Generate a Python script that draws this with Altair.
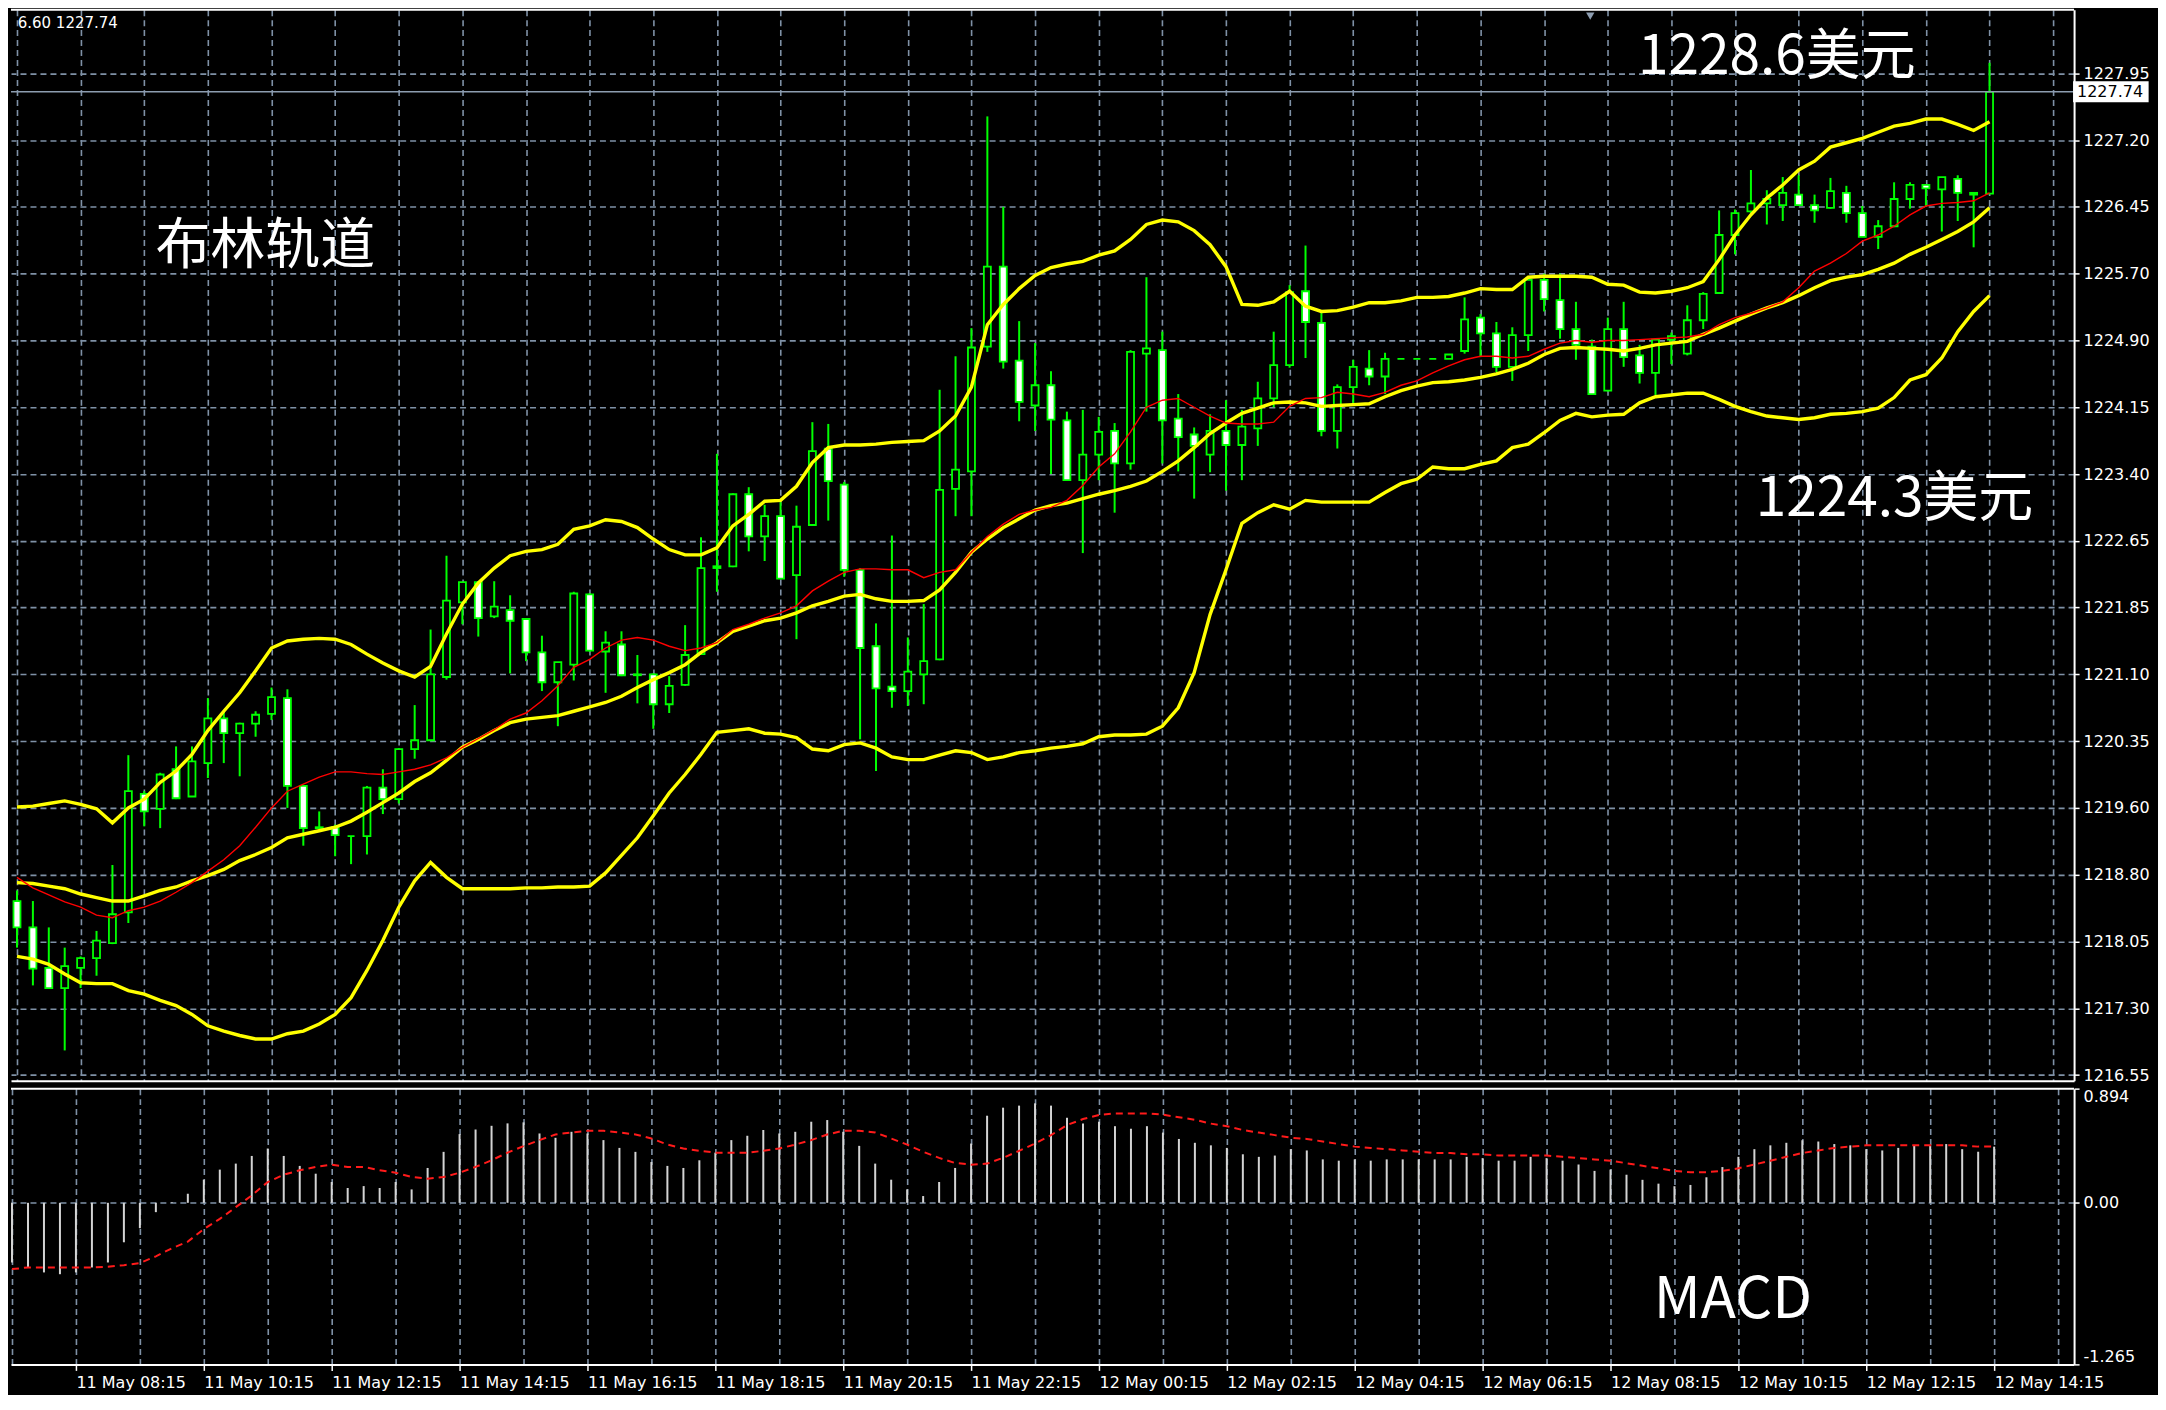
import json
import altair as alt
import pandas as pd

# ---------------- data (15-minute bars, 11 May 07:15 -> 12 May 14:15) ----------------
bar_open = [1218.53, 1218.23, 1217.77, 1217.54, 1217.77, 1217.88, 1218.05, 1218.40, 1219.75, 1219.58,
            1220.03, 1219.72, 1220.10, 1220.61, 1220.44, 1220.55, 1220.66, 1220.84, 1219.84, 1219.36,
            1219.37, 1219.27, 1219.27, 1219.82, 1219.69, 1220.26, 1220.36, 1221.08, 1221.93, 1222.16,
            1221.77, 1221.84, 1221.74, 1221.36, 1221.02, 1221.22, 1222.02, 1221.37, 1221.45, 1221.10,
            1221.11, 1220.77, 1220.99, 1221.34, 1222.32, 1222.34, 1223.16, 1222.68, 1222.91, 1222.24,
            1222.81, 1223.68, 1223.27, 1222.30, 1221.43, 1220.97, 1220.92, 1221.11, 1221.28, 1223.22,
            1223.42, 1224.84, 1225.75, 1224.68, 1224.17, 1224.40, 1224.00, 1223.32, 1223.61, 1223.88,
            1223.51, 1224.76, 1224.80, 1224.02, 1223.84, 1223.61, 1223.88, 1223.72, 1223.91, 1224.25,
            1224.63, 1225.47, 1225.11, 1223.88, 1224.38, 1224.59, 1224.50, 1224.70, 1224.70, 1224.70,
            1224.70, 1224.79, 1225.17, 1224.99, 1224.61, 1224.97, 1225.60, 1225.37, 1225.04, 1224.84,
            1224.34, 1225.04, 1224.74, 1224.54, 1224.92, 1224.76, 1225.14, 1225.45, 1226.11, 1226.38,
            1226.47, 1226.45, 1226.57, 1226.45, 1226.42, 1226.59, 1226.36, 1226.09, 1226.21, 1226.52,
            1226.68, 1226.63, 1226.75, 1226.59, 1226.58]
bar_high = [1218.65, 1218.53, 1218.23, 1218.00, 1217.90, 1218.19, 1218.94, 1220.19, 1219.78, 1219.99,
            1220.29, 1220.29, 1220.84, 1220.69, 1220.56, 1220.69, 1220.96, 1220.94, 1219.85, 1219.55,
            1219.40, 1219.27, 1219.84, 1220.03, 1220.27, 1220.76, 1221.62, 1222.46, 1222.16, 1222.17,
            1222.17, 1222.01, 1221.75, 1221.55, 1221.25, 1222.05, 1222.03, 1221.60, 1221.60, 1221.33,
            1221.12, 1221.09, 1221.67, 1222.67, 1223.62, 1223.17, 1223.24, 1223.04, 1223.07, 1223.03,
            1223.98, 1223.96, 1223.30, 1222.32, 1221.69, 1222.69, 1221.53, 1221.91, 1224.35, 1224.73,
            1225.05, 1227.46, 1226.43, 1225.13, 1224.88, 1224.56, 1224.10, 1224.12, 1224.04, 1223.97,
            1224.80, 1225.63, 1225.01, 1224.30, 1223.92, 1224.07, 1224.23, 1224.12, 1224.44, 1225.01,
            1225.54, 1225.99, 1225.24, 1224.41, 1224.69, 1224.80, 1224.77, 1224.70, 1224.70, 1224.70,
            1224.75, 1225.40, 1225.21, 1225.12, 1225.06, 1225.61, 1225.67, 1225.67, 1225.35, 1224.92,
            1225.17, 1225.35, 1224.86, 1224.93, 1225.00, 1225.31, 1225.46, 1226.39, 1226.40, 1226.85,
            1226.62, 1226.77, 1226.79, 1226.57, 1226.76, 1226.67, 1226.44, 1226.28, 1226.71, 1226.71,
            1226.69, 1226.77, 1226.79, 1226.59, 1228.07]
bar_low = [1218.00, 1217.57, 1217.54, 1216.83, 1217.54, 1217.68, 1218.04, 1218.28, 1219.38, 1219.36,
           1219.69, 1219.72, 1219.93, 1220.10, 1219.95, 1220.40, 1220.59, 1219.59, 1219.16, 1219.35,
           1219.04, 1218.95, 1219.06, 1219.52, 1219.64, 1220.15, 1220.35, 1221.05, 1221.68, 1221.54,
           1221.75, 1221.12, 1221.26, 1220.92, 1220.52, 1221.04, 1221.37, 1220.90, 1221.09, 1220.78,
           1220.49, 1220.67, 1220.98, 1221.33, 1222.05, 1222.33, 1222.51, 1222.40, 1222.20, 1221.51,
           1222.80, 1222.86, 1222.22, 1220.37, 1220.01, 1220.73, 1220.75, 1220.77, 1221.27, 1222.91,
           1222.91, 1224.78, 1224.59, 1223.99, 1223.88, 1223.39, 1223.32, 1222.49, 1223.32, 1222.95,
           1223.44, 1224.10, 1223.51, 1223.42, 1223.11, 1223.41, 1223.20, 1223.32, 1223.71, 1224.15,
           1224.60, 1224.71, 1223.82, 1223.68, 1224.19, 1224.40, 1224.30, 1224.70, 1224.70, 1224.70,
           1224.70, 1224.76, 1224.72, 1224.55, 1224.45, 1224.79, 1225.24, 1224.93, 1224.69, 1224.29,
           1224.33, 1224.61, 1224.42, 1224.29, 1224.64, 1224.74, 1225.04, 1225.44, 1225.89, 1226.36,
           1226.23, 1226.27, 1226.44, 1226.25, 1226.41, 1226.25, 1226.09, 1225.95, 1226.20, 1226.41,
           1226.43, 1226.15, 1226.27, 1225.97, 1226.58]
bar_close = [1218.23, 1217.76, 1217.54, 1217.79, 1217.88, 1218.08, 1218.38, 1219.78, 1219.55, 1219.97,
             1219.70, 1220.12, 1220.61, 1220.44, 1220.55, 1220.65, 1220.85, 1219.84, 1219.36, 1219.37,
             1219.28, 1219.27, 1219.82, 1219.69, 1220.26, 1220.36, 1221.11, 1221.95, 1222.16, 1221.75,
             1221.88, 1221.72, 1221.36, 1221.02, 1221.25, 1222.03, 1221.38, 1221.47, 1221.10, 1221.11,
             1220.77, 1220.98, 1221.33, 1222.32, 1222.34, 1223.16, 1222.68, 1222.91, 1222.20, 1222.79,
             1223.65, 1223.31, 1222.30, 1221.41, 1220.95, 1220.92, 1221.14, 1221.26, 1223.21, 1223.44,
             1224.83, 1225.75, 1224.67, 1224.21, 1224.40, 1224.01, 1223.32, 1223.61, 1223.87, 1223.51,
             1224.78, 1224.82, 1224.00, 1223.81, 1223.71, 1223.88, 1223.72, 1223.93, 1224.25, 1224.63,
             1225.46, 1225.12, 1223.88, 1224.38, 1224.61, 1224.50, 1224.70, 1224.70, 1224.70, 1224.70,
             1224.75, 1225.15, 1224.99, 1224.61, 1224.97, 1225.60, 1225.38, 1225.04, 1224.86, 1224.30,
             1225.04, 1224.72, 1224.54, 1224.92, 1224.96, 1225.14, 1225.44, 1226.11, 1226.36, 1226.47,
             1226.52, 1226.59, 1226.45, 1226.39, 1226.61, 1226.36, 1226.09, 1226.21, 1226.52, 1226.68,
             1226.64, 1226.77, 1226.59, 1226.57, 1227.74]
bb_upper = [1219.60, 1219.61, 1219.64, 1219.67, 1219.63, 1219.58, 1219.42, 1219.59, 1219.69, 1219.88,
            1220.01, 1220.20, 1220.47, 1220.69, 1220.90, 1221.15, 1221.41, 1221.49, 1221.51, 1221.52,
            1221.51, 1221.45, 1221.34, 1221.24, 1221.15, 1221.08, 1221.20, 1221.57, 1221.91, 1222.15,
            1222.32, 1222.46, 1222.51, 1222.53, 1222.59, 1222.76, 1222.80, 1222.87, 1222.85, 1222.78,
            1222.65, 1222.53, 1222.47, 1222.47, 1222.55, 1222.80, 1222.93, 1223.08, 1223.09, 1223.25,
            1223.52, 1223.69, 1223.72, 1223.72, 1223.73, 1223.75, 1223.76, 1223.77, 1223.88, 1224.05,
            1224.38, 1225.09, 1225.32, 1225.50, 1225.65, 1225.74, 1225.78, 1225.81, 1225.88, 1225.93,
            1226.06, 1226.23, 1226.28, 1226.26, 1226.16, 1226.00, 1225.75, 1225.32, 1225.31, 1225.35,
            1225.47, 1225.30, 1225.24, 1225.25, 1225.29, 1225.34, 1225.34, 1225.36, 1225.40, 1225.40,
            1225.41, 1225.45, 1225.50, 1225.49, 1225.49, 1225.63, 1225.64, 1225.64, 1225.64, 1225.63,
            1225.55, 1225.54, 1225.46, 1225.45, 1225.47, 1225.51, 1225.58, 1225.83, 1226.11, 1226.34,
            1226.53, 1226.68, 1226.85, 1226.95, 1227.11, 1227.16, 1227.21, 1227.28, 1227.35, 1227.38,
            1227.43, 1227.43, 1227.37, 1227.30, 1227.40]
bb_mid = [1218.74, 1218.73, 1218.70, 1218.67, 1218.61, 1218.57, 1218.53, 1218.53, 1218.59, 1218.65,
          1218.69, 1218.76, 1218.82, 1218.89, 1218.99, 1219.06, 1219.14, 1219.25, 1219.29, 1219.33,
          1219.37, 1219.44, 1219.54, 1219.65, 1219.76, 1219.89, 1219.99, 1220.13, 1220.28, 1220.37,
          1220.47, 1220.56, 1220.60, 1220.62, 1220.64, 1220.69, 1220.74, 1220.79, 1220.86, 1220.96,
          1221.05, 1221.13, 1221.22, 1221.36, 1221.47, 1221.60, 1221.66, 1221.72, 1221.75, 1221.81,
          1221.89, 1221.94, 1222.00, 1222.02, 1221.97, 1221.94, 1221.94, 1221.95, 1222.07, 1222.27,
          1222.50, 1222.65, 1222.78, 1222.88, 1222.98, 1223.03, 1223.06, 1223.11, 1223.16, 1223.20,
          1223.25, 1223.31, 1223.42, 1223.54, 1223.69, 1223.85, 1223.97, 1224.08, 1224.14, 1224.20,
          1224.21, 1224.20, 1224.16, 1224.17, 1224.18, 1224.19, 1224.27, 1224.34, 1224.39, 1224.43,
          1224.44, 1224.46, 1224.49, 1224.53, 1224.58, 1224.65, 1224.75, 1224.82, 1224.83, 1224.82,
          1224.81, 1224.79, 1224.82, 1224.86, 1224.88, 1224.90, 1224.98, 1225.05, 1225.13, 1225.21,
          1225.28, 1225.34, 1225.42, 1225.51, 1225.59, 1225.63, 1225.66, 1225.72, 1225.79, 1225.89,
          1225.97, 1226.06, 1226.15, 1226.26, 1226.42]
bb_lower = [1217.90, 1217.87, 1217.81, 1217.70, 1217.60, 1217.59, 1217.59, 1217.51, 1217.47, 1217.40,
            1217.34, 1217.24, 1217.11, 1217.05, 1217.00, 1216.96, 1216.96, 1217.02, 1217.05, 1217.13,
            1217.24, 1217.43, 1217.74, 1218.08, 1218.46, 1218.76, 1218.97, 1218.80, 1218.67, 1218.67,
            1218.67, 1218.67, 1218.68, 1218.68, 1218.69, 1218.69, 1218.70, 1218.85, 1219.05, 1219.25,
            1219.50, 1219.76, 1219.97, 1220.20, 1220.45, 1220.47, 1220.49, 1220.44, 1220.43, 1220.39,
            1220.26, 1220.24, 1220.31, 1220.33, 1220.27, 1220.17, 1220.14, 1220.14, 1220.19, 1220.24,
            1220.22, 1220.14, 1220.17, 1220.22, 1220.24, 1220.27, 1220.29, 1220.32, 1220.40, 1220.42,
            1220.42, 1220.43, 1220.52, 1220.73, 1221.13, 1221.79, 1222.30, 1222.83, 1222.95, 1223.04,
            1222.99, 1223.09, 1223.07, 1223.07, 1223.07, 1223.07, 1223.18, 1223.28, 1223.33, 1223.47,
            1223.45, 1223.45, 1223.50, 1223.54, 1223.69, 1223.73, 1223.86, 1224.00, 1224.08, 1224.04,
            1224.06, 1224.07, 1224.20, 1224.27, 1224.29, 1224.31, 1224.31, 1224.24, 1224.16, 1224.10,
            1224.05, 1224.03, 1224.01, 1224.03, 1224.07, 1224.08, 1224.10, 1224.14, 1224.26, 1224.46,
            1224.52, 1224.71, 1225.01, 1225.24, 1225.42]
ma_red = [1218.80, 1218.68, 1218.60, 1218.52, 1218.46, 1218.37, 1218.34, 1218.42, 1218.46, 1218.53,
          1218.63, 1218.74, 1218.87, 1219.00, 1219.16, 1219.37, 1219.59, 1219.78, 1219.86, 1219.94,
          1220.00, 1220.00, 1219.98, 1219.97, 1220.00, 1220.03, 1220.08, 1220.16, 1220.28, 1220.38,
          1220.48, 1220.60, 1220.67, 1220.81, 1220.98, 1221.19, 1221.28, 1221.41, 1221.50, 1221.53,
          1221.50, 1221.43, 1221.38, 1221.41, 1221.47, 1221.62, 1221.68, 1221.75, 1221.81, 1221.89,
          1222.06, 1222.17, 1222.27, 1222.31, 1222.31, 1222.30, 1222.30, 1222.21, 1222.27, 1222.30,
          1222.50, 1222.68, 1222.82, 1222.93, 1222.98, 1223.01, 1223.09, 1223.26, 1223.47, 1223.62,
          1223.87, 1224.15, 1224.23, 1224.25, 1224.15, 1224.05, 1223.97, 1223.96, 1223.96, 1223.98,
          1224.16, 1224.25, 1224.26, 1224.32, 1224.30, 1224.27, 1224.32, 1224.40, 1224.45, 1224.54,
          1224.62, 1224.69, 1224.73, 1224.73, 1224.71, 1224.73, 1224.81, 1224.88, 1224.91, 1224.89,
          1224.91, 1224.91, 1224.92, 1224.93, 1224.94, 1224.95, 1224.98, 1225.09, 1225.17, 1225.22,
          1225.28, 1225.35, 1225.51, 1225.70, 1225.79, 1225.90, 1226.04, 1226.11, 1226.21, 1226.34,
          1226.44, 1226.47, 1226.48, 1226.50, 1226.59]
macd_hist = [-0.467, -0.506, -0.545, -0.559, -0.545, -0.506, -0.467, -0.309, -0.199, -0.073,
             0.005, 0.071, 0.181, 0.260, 0.307, 0.367, 0.425, 0.367, 0.289, 0.228,
             0.163, 0.116, 0.131, 0.116, 0.163, 0.105, 0.273, 0.399, 0.538, 0.574,
             0.603, 0.622, 0.630, 0.543, 0.509, 0.556, 0.543, 0.491, 0.430, 0.399,
             0.320, 0.289, 0.273, 0.333, 0.393, 0.491, 0.525, 0.570, 0.543, 0.556,
             0.635, 0.648, 0.556, 0.446, 0.307, 0.181, 0.105, 0.053, 0.163, 0.273,
             0.464, 0.682, 0.745, 0.761, 0.779, 0.761, 0.666, 0.622, 0.635, 0.600,
             0.580, 0.600, 0.550, 0.500, 0.470, 0.450, 0.430, 0.380, 0.360, 0.370,
             0.420, 0.410, 0.340, 0.330, 0.340, 0.330, 0.340, 0.340, 0.340, 0.340,
             0.340, 0.360, 0.350, 0.330, 0.330, 0.360, 0.350, 0.330, 0.300, 0.250,
             0.260, 0.220, 0.180, 0.150, 0.130, 0.140, 0.200, 0.280, 0.360, 0.420,
             0.450, 0.470, 0.490, 0.480, 0.460, 0.450, 0.420, 0.410, 0.430, 0.450,
             0.450, 0.460, 0.420, 0.400, 0.440]
macd_signal = [-0.519, -0.506, -0.506, -0.506, -0.506, -0.506, -0.500, -0.488, -0.472, -0.419,
               -0.356, -0.304, -0.205, -0.126, -0.034, 0.058, 0.163, 0.220, 0.255, 0.281,
               0.299, 0.281, 0.281, 0.255, 0.236, 0.202, 0.189, 0.202, 0.236, 0.281,
               0.333, 0.393, 0.444, 0.491, 0.535, 0.551, 0.564, 0.564, 0.551, 0.535,
               0.504, 0.456, 0.425, 0.407, 0.393, 0.393, 0.393, 0.407, 0.425, 0.456,
               0.491, 0.535, 0.564, 0.564, 0.551, 0.504, 0.456, 0.399, 0.352, 0.312,
               0.299, 0.307, 0.352, 0.407, 0.464, 0.530, 0.609, 0.656, 0.688, 0.700,
               0.700, 0.700, 0.690, 0.670, 0.650, 0.620, 0.600, 0.570, 0.550, 0.530,
               0.510, 0.500, 0.480, 0.460, 0.440, 0.430, 0.420, 0.410, 0.400, 0.390,
               0.390, 0.380, 0.380, 0.370, 0.370, 0.370, 0.370, 0.360, 0.350, 0.340,
               0.330, 0.310, 0.290, 0.270, 0.250, 0.240, 0.240, 0.250, 0.270, 0.300,
               0.330, 0.360, 0.390, 0.410, 0.430, 0.440, 0.450, 0.450, 0.450, 0.450,
               0.450, 0.450, 0.450, 0.440, 0.440]

price_tick_labels = ["1216.55", "1217.30", "1218.05", "1218.80", "1219.60", "1220.35", "1221.10", "1221.85",
                     "1222.65", "1223.40", "1224.15", "1224.90", "1225.70", "1226.45", "1227.20", "1227.95"]
time_tick_labels = ["11 May 08:15", "11 May 10:15", "11 May 12:15", "11 May 14:15", "11 May 16:15",
                    "11 May 18:15", "11 May 20:15", "11 May 22:15", "12 May 00:15", "12 May 02:15",
                    "12 May 04:15", "12 May 06:15", "12 May 08:15", "12 May 10:15", "12 May 12:15",
                    "12 May 14:15"]
macd_range = [-1.265, 0.894]
annotation_text = ["布林轨道", "1228.6美元", "1224.3美元"]
info_text = "6.60 1227.74"

# ---------------- layout / style ----------------
W = 2065
H_MAIN = 1072
H_MACD = 276
X_DOMAIN = [-0.0625, 129.0]
P_DOMAIN = [1216.486, 1228.675]
GREEN = "#00ff00"
YELLOW = "#ffff00"
GRID = "#7f91a6"
AXFONT = "DejaVu Sans"
ANNFONT = "Noto Sans CJK SC"

n = len(bar_close)
df = pd.DataFrame({
    "i": list(range(n)), "o": bar_open, "h": bar_high, "l": bar_low, "c": bar_close,
    "U": bb_upper, "M": bb_mid, "L": bb_lower, "R": ma_red,
    "hist": macd_hist, "sig": macd_signal, "z": [0.0] * n,
})

xs = alt.Scale(domain=X_DOMAIN, nice=False, zero=False)
ps = alt.Scale(domain=P_DOMAIN, nice=False, zero=False)
ms = alt.Scale(domain=macd_range, nice=False, zero=False)

vgrid = list(range(0, 129, 4))
pgrid = [round(1216.55 + 0.76 * k, 4) for k in range(16)]

grid_common = dict(grid=True, gridColor=GRID, gridDash=[6, 4], gridWidth=1.6)

main_x_axis = alt.Axis(title=None, values=vgrid, labels=False, ticks=False, domain=True,
                       domainColor="white", domainWidth=2, **grid_common)
main_y_axis = alt.Axis(
    title=None, orient="right", values=pgrid,
    labelExpr=json.dumps(price_tick_labels) + "[round((datum.value - 1216.55) / 0.76)]",
    labelColor="white", labelFont=AXFONT, labelFontSize=16, labelAlign="left",
    labelBaseline="middle", labelPadding=4, labelOverlap=False,
    tickColor="white", tickSize=5, tickWidth=1.5,
    domain=True, domainColor="white", domainWidth=2, **grid_common)

macd_x_axis = alt.Axis(
    title=None, values=vgrid,
    labelExpr="datum.value % 8 === 4 ? " + json.dumps(time_tick_labels) + "[(datum.value - 4) / 8] : ''",
    labelColor="white", labelFont=AXFONT, labelFontSize=16, labelAlign="left",
    labelBaseline="top", labelPadding=4, labelOverlap=False, labelFlush=False,
    tickColor="white", tickSize=6, tickWidth=1.5,
    tickOpacity={"condition": {"test": "datum.value % 8 === 4", "value": 1}, "value": 0},
    domain=True, domainColor="white", domainWidth=2, **grid_common)
macd_y_axis = alt.Axis(
    title=None, orient="right", values=[macd_range[0], 0, macd_range[1]],
    labelExpr="datum.value > 0.5 ? '0.894' : (datum.value < -1 ? '-1.265' : '0.00')",
    labelColor="white", labelFont=AXFONT, labelFontSize=16, labelAlign="left",
    labelPadding=4, labelOverlap=False, labelFlush=True,
    tickColor="white", tickSize=5, tickWidth=1.5,
    domain=True, domainColor="white", domainWidth=2,
    grid=True, gridColor=GRID, gridDash=[6, 4], gridWidth=1.6,
    gridOpacity={"condition": {"test": "datum.value === 0", "value": 1}, "value": 0})


def XM(f):
    return alt.X(f"{f}:Q", scale=xs, axis=main_x_axis)


def YM(f):
    return alt.Y(f"{f}:Q", scale=ps, axis=main_y_axis)


def XB(f):
    return alt.X(f"{f}:Q", scale=xs, axis=macd_x_axis)


def YB(f):
    return alt.Y(f"{f}:Q", scale=ms, axis=macd_y_axis)


base = alt.Chart(df)

# ---- main price panel ----
wicks = base.mark_rule(color=GREEN, strokeWidth=2).encode(x=XM("i"), y=YM("l"), y2="h")
bodies = base.mark_bar(size=7, stroke=GREEN, strokeWidth=1.8).encode(
    x=XM("i"), y=YM("o"), y2="c",
    fill=alt.condition("datum.c > datum.o", alt.value("#000000"), alt.value("#ffffff")))
upper = base.mark_line(color=YELLOW, strokeWidth=3.4).encode(x=XM("i"), y=YM("U"))
middle = base.mark_line(color=YELLOW, strokeWidth=3.4).encode(x=XM("i"), y=YM("M"))
lower = base.mark_line(color=YELLOW, strokeWidth=3.4).encode(x=XM("i"), y=YM("L"))
red = base.mark_line(color="#ff0000", strokeWidth=1.4).encode(x=XM("i"), y=YM("R"))

last = bar_close[-1]
price_line = alt.Chart(pd.DataFrame({"p": [last]})).mark_rule(
    color="#8d9db0", strokeWidth=1.5).encode(y=YM("p"))
top_border = alt.Chart(pd.DataFrame({"p": [P_DOMAIN[1]]})).mark_rule(
    color="white", strokeWidth=2).encode(y=YM("p"))

ann_df = pd.DataFrame({"x": [8.7, 101.9, 109.3], "y": [1225.99, 1228.14, 1223.10], "t": annotation_text})
annotations = alt.Chart(ann_df).mark_text(
    align="left", baseline="middle", font=ANNFONT, fontSize=55, color="white").encode(
    x=XM("x"), y=YM("y"), text="t:N")

info = alt.Chart(pd.DataFrame({"x": [0.05], "y": [1228.52], "t": [info_text]})).mark_text(
    align="left", baseline="middle", font=AXFONT, fontSize=15, color="white").encode(
    x=XM("x"), y=YM("y"), text="t:N")

tag_df = pd.DataFrame({"x": [129.25], "x2": [134.0], "y": [last - 0.12], "y2": [last + 0.12],
                       "tx": [129.5], "ty": [last], "t": [f"{last:.2f}"]})
tag_box = alt.Chart(tag_df).mark_rect(fill="white").encode(x=XM("x"), x2="x2", y=YM("y"), y2="y2")
tag_text = alt.Chart(tag_df).mark_text(
    align="left", baseline="middle", font=AXFONT, fontSize=16, color="black").encode(
    x=XM("tx"), y=YM("ty"), text="t:N")

shift_marker = alt.Chart(pd.DataFrame({"x": [98.9], "y": [1228.60]})).mark_point(
    shape="triangle-down", filled=True, size=70, color="#8d9db0", opacity=1).encode(
    x=XM("x"), y=YM("y"))

main = alt.layer(
    wicks, bodies, upper, middle, lower, red, price_line, top_border,
    annotations, info, tag_box, tag_text, shift_marker
).properties(width=W, height=H_MAIN)

# ---- MACD panel ----
hist = base.mark_rule(color="#d4d4d4", strokeWidth=2).encode(x=XB("i"), y=YB("hist"), y2="z")
signal = base.mark_line(color="#ff1a1a", strokeWidth=2, strokeDash=[7, 5]).encode(x=XB("i"), y=YB("sig"))
macd_top = alt.Chart(pd.DataFrame({"v": [macd_range[1]]})).mark_rule(
    color="white", strokeWidth=2).encode(y=YB("v"))
macd_label = alt.Chart(pd.DataFrame({"x": [102.7], "y": [-0.77], "t": ["MACD"]})).mark_text(
    align="left", baseline="middle", font=ANNFONT, fontSize=58, color="white").encode(
    x=XB("x"), y=YB("y"), text="t:N")

macd = alt.layer(hist, signal, macd_top, macd_label).properties(width=W, height=H_MACD)

chart = alt.vconcat(main, macd, spacing=4).properties(
    background="black",
    padding={"left": 0, "top": 0, "right": 8, "bottom": 4},
).configure_view(strokeWidth=0)

chart.save("out.html", embed_options={"renderer": "svg", "actions": False})
